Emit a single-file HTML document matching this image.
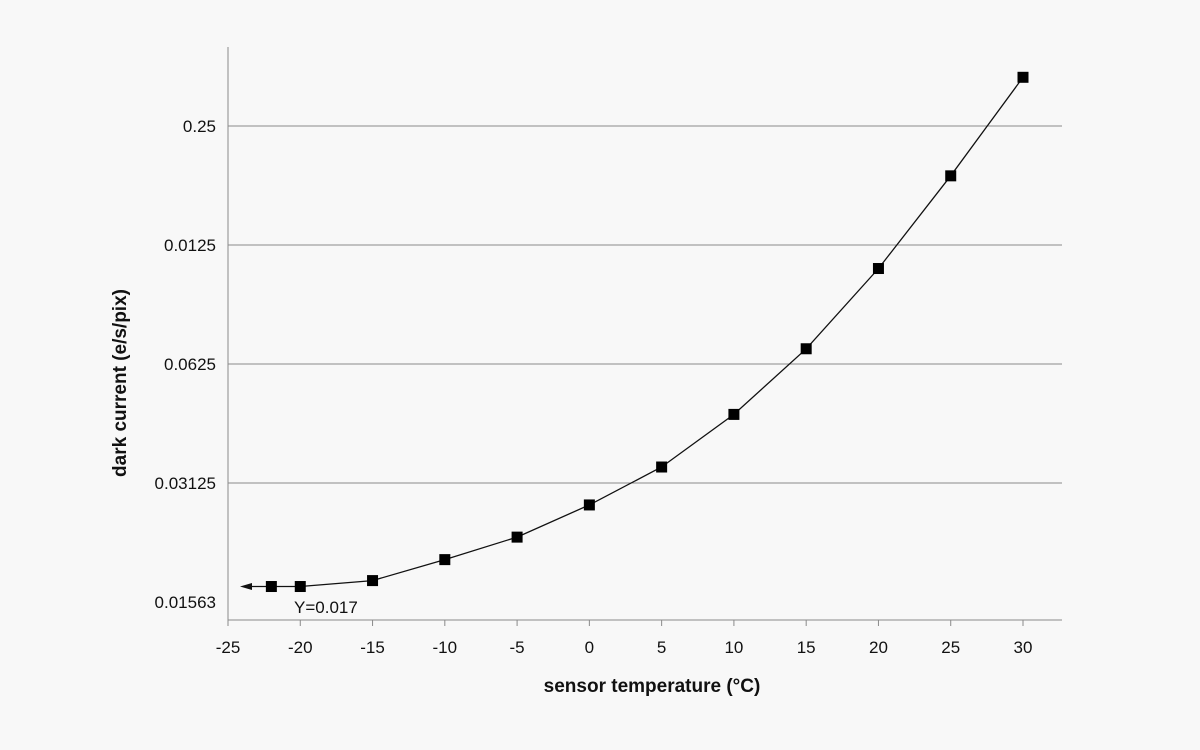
<!DOCTYPE html>
<html><head><meta charset="utf-8"><style>
html,body{margin:0;padding:0;background:#f8f8f8;}
svg{display:block;font-family:"Liberation Sans",sans-serif;}
</style></head><body>
<svg id="chart" width="1200" height="750">
<rect width="1200" height="750" fill="#f8f8f8"/>
<g id="grid"></g><g id="axes"></g><g id="series"></g>
<text x="652" y="692" text-anchor="middle" font-size="19" font-weight="bold" fill="#111">sensor temperature (°C)</text>
<text transform="translate(126,383) rotate(-90)" text-anchor="middle" font-size="19" font-weight="bold" fill="#111">dark current (e/s/pix)</text>
<text x="294" y="613" font-size="17" fill="#111">Y=0.017</text>
</svg>
<script>
const xTicks=[-25,-20,-15,-10,-5,0,5,10,15,20,25,30];
const yTickValues=[0.015625,0.03125,0.0625,0.125,0.25];
const yTickLabels=["0.01563","0.03125","0.0625","0.0125","0.25"];
const temps=[-22,-20,-15,-10,-5,0,5,10,15,20,25,30];
const current=[0.0171,0.0171,0.0177,0.0200,0.0228,0.0275,0.0343,0.0466,0.0683,0.109,0.187,0.332];
const NS="http://www.w3.org/2000/svg";
function X(v){return 228+(v+25)*(795/55);}
function Y(v){return 602-Math.log2(v/0.015625)*119;}
function mk(tag,attrs,parent){const e=document.createElementNS(NS,tag);for(const k in attrs)e.setAttribute(k,attrs[k]);parent.appendChild(e);return e;}
const grid=document.getElementById('grid'),axes=document.getElementById('axes'),ser=document.getElementById('series');
yTickValues.forEach((v,i)=>{
  const y=Y(v);
  if(i>0){const l=mk('line',{x1:228,x2:1062,y1:y,y2:y,stroke:'#8a8a8a','stroke-width':1},grid);
  
  }
  const t=mk('text',{x:216,y:y+6,'text-anchor':'end','font-size':17,fill:'#111'},axes);t.textContent=yTickLabels[i];
  
  
});
const ya=mk('line',{x1:228,x2:228,y1:47,y2:620,stroke:'#8a8a8a'},axes);


const xa=mk('line',{x1:228,x2:1062,y1:620,y2:620,stroke:'#8a8a8a'},axes);


xTicks.forEach(v=>{
  const x=X(v);
  const tk=mk('line',{x1:x,x2:x,y1:620,y2:626,stroke:'#8a8a8a'},axes);
  
  
  const t=mk('text',{x:x,y:653,'text-anchor':'middle','font-size':17,fill:'#111'},axes);t.textContent=v;
  
  
});
const pts=temps.map((t,i)=>X(t).toFixed(1)+','+Y(current[i]).toFixed(1));
const ln=mk('polyline',{points:pts.join(' '),fill:'none',stroke:'#111','stroke-width':1.3},ser);


const ay=Y(current[0]),ax=X(temps[0]);
const al=mk('line',{x1:ax,x2:248,y1:ay,y2:ay,stroke:'#111','stroke-width':1.3},ser);


const ah=mk('polygon',{points:`240,${ay} 252,${ay-3.5} 252,${ay+3.5}`,fill:'#111'},ser);


temps.forEach((t,i)=>{
  const r=mk('rect',{x:X(t)-5.5,y:Y(current[i])-5.5,width:11,height:11,fill:'#000'},ser);
  
  
});
</script>
</body></html>
